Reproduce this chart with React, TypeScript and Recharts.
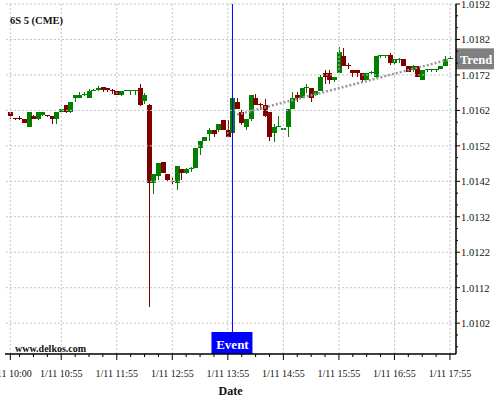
import { Bar, ComposedChart, Line, ReferenceLine, XAxis, YAxis } from "recharts";

const RED = "#800000";
const GREEN = "#008000";
const GRID = "#c4c4c4";
const SERIF = "'Liberation Serif', 'Times New Roman', serif";

// 5-minute bars, index 0 = 1/11 10:00
const opens = [
  1.01615, 1.01598, 1.01598, 1.01595, 1.01574, 1.01604, 1.01596, 1.01606, 1.01607, 1.01604,
  1.01595, 1.01615, 1.01635, 1.01615, 1.01656, 1.01656, 1.01663, 1.01656, 1.01676, 1.01678,
  1.01685, 1.01684, 1.01677, 1.01675, 1.01663, 1.01676, 1.01676, 1.01676, 1.01684, 1.01646,
  1.01635, 1.01416, 1.01435, 1.01474, 1.01442, 1.0142, 1.01416, 1.01454, 1.01444, 1.01455,
  1.01457, 1.01513, 1.01533, 1.01553, 1.01564, 1.01564, 1.01593, 1.01564, 1.01555, 1.01643,
  1.01615, 1.01574, 1.01595, 1.01655, 1.01638, 1.01635, 1.01615, 1.01555, 1.01575, 1.01564,
  1.01574, 1.01624, 1.01663, 1.01656, 1.01684, 1.01682, 1.01663, 1.01675, 1.01726, 1.01726,
  1.01707, 1.01726, 1.01774, 1.01748, 1.01734, 1.01734, 1.01726, 1.01707, 1.01727, 1.01715,
  1.01774, 1.01774, 1.01775, 1.01755, 1.01763, 1.01765, 1.01746, 1.01734, 1.01744, 1.01707,
  1.01735, 1.01735, 1.01735, 1.01736, 1.01745, 1.01767,
];
const highs = [
  1.01615, 1.01599, 1.01603, 1.01595, 1.01615, 1.01606, 1.01615, 1.01615, 1.01608, 1.01604,
  1.01615, 1.01623, 1.01635, 1.01643, 1.01663, 1.01672, 1.01672, 1.0168, 1.0168, 1.01688,
  1.01685, 1.01684, 1.01679, 1.01675, 1.01675, 1.01678, 1.01678, 1.01678, 1.01693, 1.0167,
  1.01637, 1.01442, 1.01473, 1.01474, 1.01442, 1.01433, 1.01463, 1.01454, 1.01458, 1.01459,
  1.01513, 1.01533, 1.01545, 1.0157, 1.01564, 1.01583, 1.01593, 1.01593, 1.01655, 1.01655,
  1.0162, 1.01595, 1.01662, 1.01665, 1.0164, 1.01653, 1.01615, 1.01583, 1.01603, 1.0157,
  1.01624, 1.01672, 1.01672, 1.01682, 1.01693, 1.01682, 1.01676, 1.0172, 1.01735, 1.01734,
  1.01715, 1.01798, 1.01795, 1.01755, 1.01734, 1.01734, 1.01726, 1.01726, 1.01731, 1.01773,
  1.01775, 1.01775, 1.01783, 1.01764, 1.01767, 1.01765, 1.01746, 1.01748, 1.01744, 1.01734,
  1.01736, 1.01736, 1.01736, 1.01745, 1.01772, 1.01772,
];
const lows = [
  1.01595, 1.01594, 1.01592, 1.01585, 1.01572, 1.01595, 1.01592, 1.01603, 1.016, 1.01583,
  1.01583, 1.01615, 1.01612, 1.01612, 1.01645, 1.01656, 1.0166, 1.01656, 1.01674, 1.01675,
  1.01672, 1.01672, 1.01667, 1.01663, 1.0166, 1.01674, 1.01663, 1.01664, 1.01632, 1.01638,
  1.01065, 1.01384, 1.01423, 1.01444, 1.0142, 1.01412, 1.01395, 1.01423, 1.0144, 1.01446,
  1.01457, 1.01494, 1.01533, 1.01533, 1.01545, 1.0156, 1.01564, 1.01545, 1.01555, 1.01624,
  1.0158, 1.01565, 1.0159, 1.01636, 1.0162, 1.016, 1.01533, 1.0153, 1.01574, 1.01564,
  1.01545, 1.01624, 1.01645, 1.01656, 1.01668, 1.01644, 1.0166, 1.01675, 1.01694, 1.01694,
  1.017, 1.01726, 1.01745, 1.01738, 1.01715, 1.01715, 1.017, 1.01707, 1.01724, 1.01712,
  1.01768, 1.01768, 1.01748, 1.01748, 1.01755, 1.01746, 1.01727, 1.01727, 1.01715, 1.01707,
  1.01727, 1.01727, 1.01727, 1.01736, 1.01745, 1.01764,
];
const closes = [
  1.01605, 1.01596, 1.01596, 1.01585, 1.01615, 1.01595, 1.01615, 1.01615, 1.01604, 1.01595,
  1.01615, 1.01623, 1.01615, 1.01643, 1.01663, 1.01663, 1.01667, 1.01675, 1.01677, 1.01684,
  1.01678, 1.01677, 1.01675, 1.01663, 1.01675, 1.01678, 1.01678, 1.01678, 1.01634, 1.01664,
  1.01416, 1.01442, 1.01473, 1.01444, 1.01425, 1.01418, 1.01463, 1.01444, 1.01454, 1.01458,
  1.01513, 1.01533, 1.01545, 1.01564, 1.01553, 1.01583, 1.01564, 1.01545, 1.01655, 1.01624,
  1.01585, 1.01595, 1.01662, 1.01636, 1.01635, 1.01604, 1.01545, 1.01574, 1.01577, 1.0157,
  1.01624, 1.01654, 1.01654, 1.01682, 1.01685, 1.01656, 1.01676, 1.01715, 1.01715, 1.01707,
  1.01715, 1.01784, 1.01745, 1.01747, 1.01726, 1.01726, 1.01707, 1.01726, 1.01729, 1.01773,
  1.01775, 1.01775, 1.01755, 1.01764, 1.01765, 1.01746, 1.01727, 1.01744, 1.01715, 1.01734,
  1.01736, 1.01736, 1.01736, 1.01745, 1.01764, 1.01768,
];

const trendBars = [49, 95];
const trendValues = [1.01608, 1.01764];
const eventBar = 48;

const xMajorTicks = [0, 11, 23, 35, 47, 59, 71, 83, 95];
const xMajorLabels = [
  "1/11 10:00", "1/11 10:55", "1/11 11:55", "1/11 12:55", "1/11 13:55",
  "1/11 14:55", "1/11 15:55", "1/11 16:55", "1/11 17:55",
];
const xMinorTicks = [2, 5, 8, 14, 17, 20, 26, 29, 32, 38, 41, 44, 50, 53, 56, 62, 65, 68, 74, 77, 80, 86, 89, 92];
const yMajorTicks = [1.0102, 1.0112, 1.0122, 1.0132, 1.0142, 1.0152, 1.0162, 1.0172, 1.0182, 1.0192];

const X_DOMAIN = [-1.15, 96.3];
const Y_DOMAIN = [1.00933, 1.0192];

const yMinorTicks: number[] = [];
[1.0092, ...yMajorTicks.slice(0, -1)].forEach((m) => {
  yMinorTicks.push(+(m + 0.001 / 3).toFixed(6), +(m + 0.002 / 3).toFixed(6));
});
const yAllTicks = [...yMajorTicks, ...yMinorTicks.filter((v) => v > Y_DOMAIN[0])].sort((a, b) => a - b);
const xAllTicks = [...xMajorTicks, ...xMinorTicks].sort((a, b) => a - b);

const data = opens.map((o, i) => ({
  i,
  open: o,
  high: highs[i],
  low: lows[i],
  close: closes[i],
  trend: trendBars.includes(i) ? trendValues[trendBars.indexOf(i)] : null,
}));

function Candle(props: any) {
  const { x, y, width, height, payload } = props;
  if (x == null || y == null) return null;
  const top = Math.min(y, y + height);
  const bottom = Math.max(y, y + height);
  const span = payload.high - payload.low;
  const toY = (v: number) => (span > 0 ? top + ((payload.high - v) / span) * (bottom - top) : top);
  const up = payload.close >= payload.open;
  const color = up ? GREEN : RED;
  const x0 = Math.round(x);
  const x1 = Math.round(x + width);
  const cx = Math.floor(x + width / 2) + 0.5;
  const bTop = Math.round(toY(Math.max(payload.open, payload.close)));
  const bBot = Math.max(bTop + 1, Math.round(toY(Math.min(payload.open, payload.close))));
  return (
    <g>
      <line x1={cx} x2={cx} y1={Math.round(top)} y2={Math.max(Math.round(bottom), Math.round(top) + 1)} stroke={color} />
      <rect x={x0} y={bTop} width={x1 - x0} height={bBot - bTop} fill={color} />
    </g>
  );
}

function XTick({ x, y, payload }: any) {
  const k = xMajorTicks.indexOf(payload.value);
  const major = k >= 0;
  return (
    <g>
      <line x1={x} x2={x} y1={y} y2={y + (major ? 6 : 3)} stroke="#000" />
      {major && (
        <text x={x} y={y + 23} textAnchor="middle" fontSize={10} fontFamily={SERIF} fill="#111">
          {xMajorLabels[k]}
        </text>
      )}
    </g>
  );
}

function YTick({ x, y, payload }: any) {
  const major = yMajorTicks.some((v) => Math.abs(v - payload.value) < 1e-7);
  return (
    <g>
      <line x1={x} x2={x + (major ? 4 : 2)} y1={y} y2={y} stroke="#000" />
      {major && (
        <text x={x + 5} y={y + 4} textAnchor="start" fontSize={10.5} fontFamily={SERIF} fill="#111">
          {payload.value.toFixed(4)}
        </text>
      )}
    </g>
  );
}

function EventLabel({ viewBox }: any) {
  if (!viewBox) return null;
  const cx = viewBox.x;
  const bottom = viewBox.y + viewBox.height;
  return (
    <g>
      <rect x={cx - 21} y={bottom - 22} width={41} height={22} fill="#0000ff" />
      <text x={cx} y={bottom - 5} textAnchor="middle" fontSize={13} fontWeight="bold" fontFamily={SERIF} fill="#fff">
        Event
      </text>
    </g>
  );
}

function TrendLabel({ viewBox }: any) {
  if (!viewBox) return null;
  const left = viewBox.x + viewBox.width;
  const cy = viewBox.y;
  return (
    <g>
      <rect x={left} y={cy - 11} width={38} height={21} fill="#808080" />
      <text x={left + 20} y={cy + 4.5} textAnchor="middle" fontSize={12.5} fontWeight="bold" fontFamily={SERIF} fill="#fff">
        Trend
      </text>
    </g>
  );
}

export default function App() {
  return (
    <div style={{ position: "absolute", left: 0, top: 0, width: 500, height: 400, background: "#fff" }}>
      <ComposedChart width={500} height={400} data={data} margin={{ top: 4, right: 0, bottom: 0, left: 5 }} barCategoryGap={0}>
        {/* dashed grid at the major ticks only */}
        {xMajorTicks.map((v) => (
          <ReferenceLine key={`gx${v}`} x={v} stroke={GRID} strokeDasharray="2 2" />
        ))}
        {yMajorTicks.map((v) => (
          <ReferenceLine key={`gy${v}`} y={v} stroke={GRID} strokeDasharray="2 2" />
        ))}
        <XAxis
          dataKey="i"
          type="number"
          domain={X_DOMAIN}
          allowDataOverflow
          ticks={xAllTicks}
          interval={0}
          height={46}
          tickSize={0}
          tickMargin={0}
          tickLine={false}
          tick={<XTick />}
          axisLine={{ stroke: "#000", strokeWidth: 1.5 }}
        />
        <YAxis
          orientation="right"
          type="number"
          domain={Y_DOMAIN}
          allowDataOverflow
          ticks={yAllTicks}
          interval={0}
          width={44}
          tickSize={0}
          tickMargin={0}
          tickLine={false}
          tick={<YTick />}
          axisLine={{ stroke: "#000", strokeWidth: 1.5 }}
        />
        <Bar dataKey={(d: any) => [d.low, d.high]} shape={<Candle />} isAnimationActive={false} />
        <Line
          dataKey="trend"
          connectNulls
          dot={false}
          stroke="#999999"
          strokeWidth={2.5}
          strokeDasharray="2 2"
          isAnimationActive={false}
        />
        <ReferenceLine x={eventBar} stroke="#0000ff" strokeWidth={1} label={EventLabel} />
        <ReferenceLine y={trendValues[1]} stroke="none" label={TrendLabel} />
      </ComposedChart>
      <svg width={500} height={400} style={{ position: "absolute", left: 0, top: 0, pointerEvents: "none" }}>
        <text x={10} y={24} fontSize={10.5} fontWeight="bold" fontFamily={SERIF} fill="#111">
          6S 5 (CME)
        </text>
        <text x={15} y={352} fontSize={10} fontWeight="bold" fontFamily={SERIF} fill="#111">
          www.delkos.com
        </text>
        <text x={230.5} y={395} textAnchor="middle" fontSize={12} fontWeight="bold" fontFamily={SERIF} fill="#111">
          Date
        </text>
      </svg>
    </div>
  );
}
